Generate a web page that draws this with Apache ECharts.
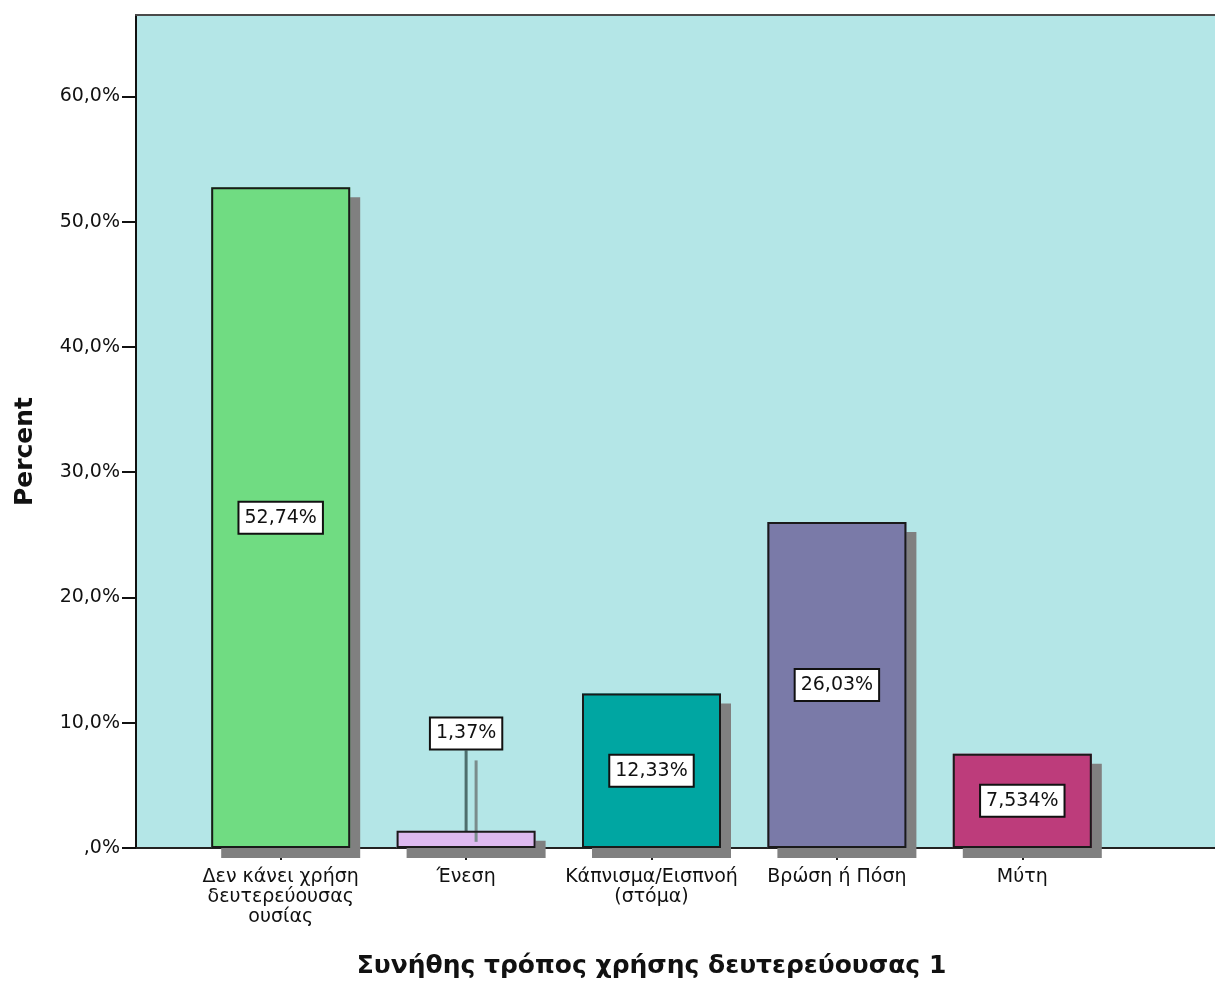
<!DOCTYPE html>
<html>
<head>
<meta charset="utf-8">
<script src="https://cdn.jsdelivr.net/npm/echarts@6/dist/echarts.min.js"></script>
<style>html,body{margin:0;padding:0;background:#fff;}#chart{width:1215px;height:983px;}</style>
</head>
<body>
<div id="chart"></div>
<script>
const categories = ['Δεν κάνει χρήση\nδευτερεύουσας\nουσίας', 'Ένεση', 'Κάπνισμα/Εισπνοή\n(στόμα)', 'Βρώση ή Πόση', 'Μύτη'];
const percentValues = [52.74, 1.37, 12.33, 26.03, 7.534];
const valueLabels = ['52,74%', '1,37%', '12,33%', '26,03%', '7,534%'];
const barColors = ['#70DC82', '#DDB9EF', '#00A6A2', '#7A7AA8', '#BD3C7B'];
const yTickValues = [0, 10, 20, 30, 40, 50, 60];
const yTickLabels = [',0%', '10,0%', '20,0%', '30,0%', '40,0%', '50,0%', '60,0%'];
const xTitle = 'Συνήθης τρόπος χρήσης δευτερεύουσας 1';
const yTitle = 'Percent';

const FONT = "'DejaVu Sans', sans-serif";
const Y_MAX = 66.5;

const chart = echarts.init(document.getElementById('chart'), null, {renderer: 'canvas'});

const fillData = percentValues.map((v, i) => ({value: v, itemStyle: {color: barColors[i]}}));
const outlineData = percentValues.map((v, i) => {
  const item = {value: v, label: {formatter: valueLabels[i]}};
  if (i === 1) item.labelLine = {show: true};
  return item;
});

const option = {
  animation: false,
  backgroundColor: '#ffffff',
  grid: [
    {left: 136, right: 0, top: 15, bottom: 135, show: true, backgroundColor: '#B4E6E7', borderWidth: 0,
     containLabel: false, outerBoundsMode: 'none'},
    {left: 188, width: 927, top: 15, bottom: 135, containLabel: false, outerBoundsMode: 'none'}
  ],
  xAxis: [
    {gridIndex: 0, type: 'value', min: 0, max: 1, position: 'bottom',
     axisLine: {show: true, onZero: false, lineStyle: {color: '#222', width: 2}},
     axisTick: {show: false}, axisLabel: {show: false}, splitLine: {show: false}},
    {gridIndex: 0, type: 'value', min: 0, max: 1, position: 'top',
     axisLine: {show: true, onZero: false, lineStyle: {color: '#4a4a4a', width: 2}},
     axisTick: {show: false}, axisLabel: {show: false}, splitLine: {show: false}},
    {gridIndex: 1, type: 'category', data: categories, position: 'bottom',
     axisLine: {show: false},
     axisTick: {show: true, alignWithLabel: true, length: 12, lineStyle: {color: '#222', width: 2}},
     axisLabel: {margin: 19, fontFamily: FONT, fontSize: 19, color: '#111', lineHeight: 20, interval: 0},
     name: xTitle, nameLocation: 'middle', nameGap: 106,
     nameTextStyle: {fontFamily: FONT, fontSize: 25, fontWeight: 'bold', color: '#111'}}
  ],
  yAxis: [
    {gridIndex: 0, type: 'value', min: 0, max: Y_MAX,
     axisLine: {show: true, lineStyle: {color: '#111', width: 2}},
     axisTick: {show: true, length: 14, customValues: yTickValues, lineStyle: {color: '#111', width: 2}},
     axisLabel: {customValues: yTickValues, margin: 16, fontFamily: FONT, fontSize: 19, color: '#111',
       formatter: function (v) { const k = yTickValues.indexOf(v); return k >= 0 ? yTickLabels[k] : ''; }},
     splitLine: {show: false},
     name: yTitle, nameLocation: 'middle', nameGap: 98,
     nameTextStyle: {fontFamily: FONT, fontSize: 25, fontWeight: 'bold', color: '#111', padding: [0, 40, 0, 0]}},
    {gridIndex: 1, type: 'value', min: 0, max: Y_MAX, show: false, splitLine: {show: false}}
  ],
  series: [{
    type: 'bar',
    xAxisIndex: 2,
    yAxisIndex: 1,
    barWidth: 139,
    barGap: '-100%',
    clip: false,
    z: 2,
    data: fillData,
    itemStyle: {
      borderWidth: 0,
      shadowColor: '#808080', shadowBlur: 0, shadowOffsetX: 10, shadowOffsetY: 10
    },
    label: {show: false}
  }, {
    type: 'bar',
    xAxisIndex: 2,
    yAxisIndex: 1,
    barWidth: 139,
    barGap: '-100%',
    clip: false,
    z: 3,
    data: outlineData,
    itemStyle: {color: 'rgba(0,0,0,0)', borderColor: '#1a1a1a', borderWidth: 2},
    label: {
      show: true, position: 'inside',
      fontFamily: FONT, fontSize: 19, color: '#111',
      backgroundColor: '#ffffff', borderColor: '#111', borderWidth: 2,
      padding: [6, 5, 5, 5]
    },
    labelLayout: function (params) {
      if (params.dataIndex === 1) return {dy: -106};
      return {};
    },
    labelLine: {
      show: false,
      lineStyle: {color: '#4d6e6d', width: 3, shadowColor: '#7a8c8c', shadowBlur: 0, shadowOffsetX: 10, shadowOffsetY: 10}
    }
  }]
};

chart.setOption(option);
</script>
</body>
</html>
